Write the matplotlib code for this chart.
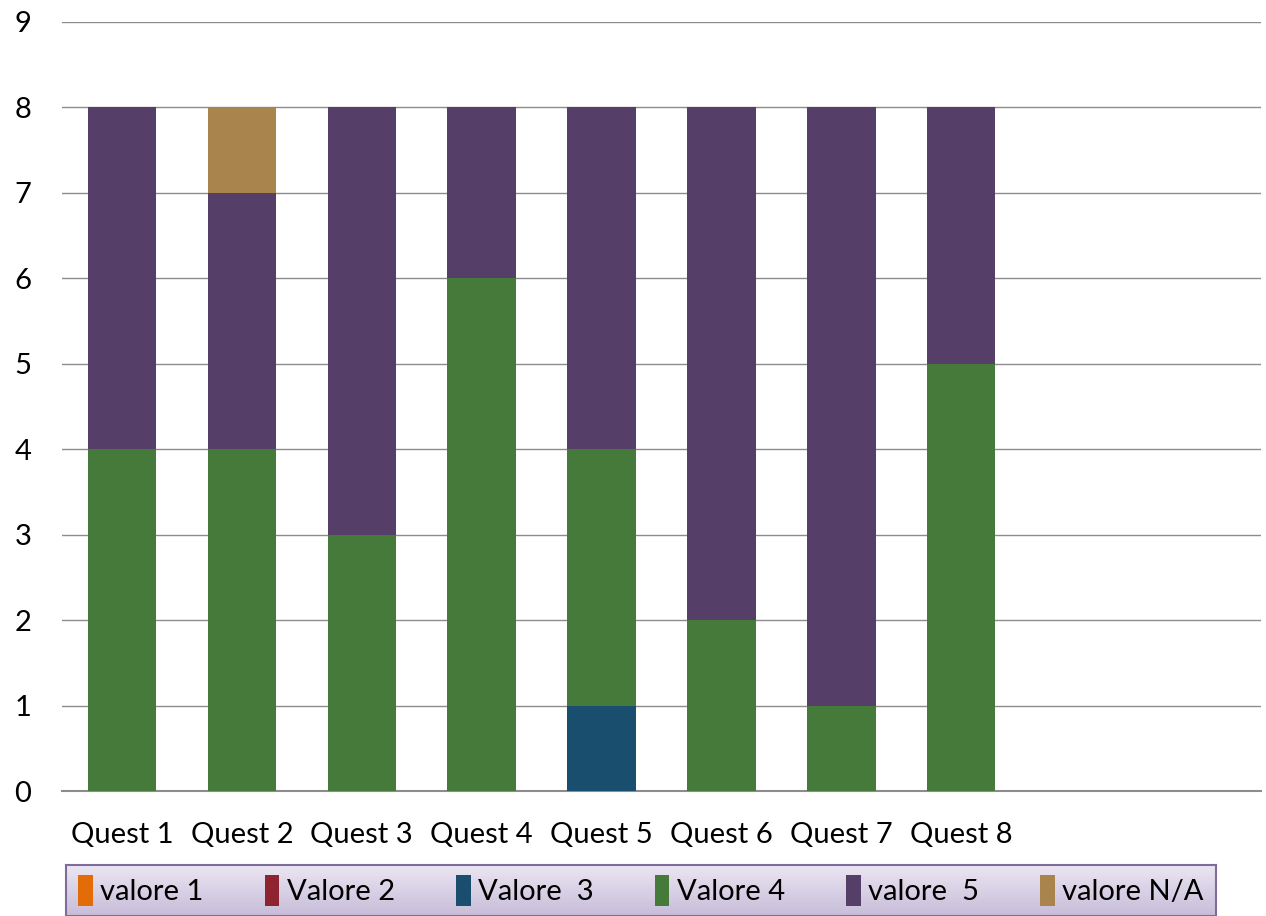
import matplotlib.pyplot as plt
import numpy as np
from matplotlib.patches import Patch

plt.rcParams["font.family"] = ["Lato", "DejaVu Sans"]

categories = ["Quest 1", "Quest 2", "Quest 3", "Quest 4", "Quest 5",
              "Quest 6", "Quest 7", "Quest 8", "", ""]
series_names = ["valore 1", "Valore 2", "Valore  3", "Valore 4", "valore  5", "valore N/A"]
valore1 = [0, 0, 0, 0, 0, 0, 0, 0, 0, 0]
valore2 = [0, 0, 0, 0, 0, 0, 0, 0, 0, 0]
valore3 = [0, 0, 0, 0, 1, 0, 0, 0, 0, 0]
valore4 = [4, 4, 3, 6, 3, 2, 1, 5, 0, 0]
valore5 = [4, 3, 5, 2, 4, 6, 7, 3, 0, 0]
valore_na = [0, 1, 0, 0, 0, 0, 0, 0, 0, 0]
colors = ["#e36c09", "#8e2430", "#1a4e6e", "#457a3a", "#553f69", "#a9854d"]

fig = plt.figure(figsize=(12.66, 9.16), dpi=100)
ax = fig.add_axes([62 / 1266, 1 - 791 / 916, (1261 - 62) / 1266, (791 - 22) / 916])

x = np.arange(len(categories))
bottom = np.zeros(len(categories))
for vals, color in zip([valore1, valore2, valore3, valore4, valore5, valore_na], colors):
    vals = np.array(vals, dtype=float)
    ax.bar(x, vals, width=0.57, bottom=bottom, color=color, zorder=3)
    bottom += vals

ax.set_xlim(-0.5, len(categories) - 0.5)
ax.set_ylim(0, 9)
ax.set_yticks(range(10))
ax.set_xticks(x)
ax.set_xticklabels(categories)
ax.tick_params(axis="both", length=0, labelsize=21, colors="black")
ax.tick_params(axis="x", pad=22)
ax.tick_params(axis="y", pad=22)
ax.yaxis.grid(True, color="#8c8c8c", linewidth=1.0, zorder=0)
for side in ["left", "right", "top"]:
    ax.spines[side].set_visible(False)
ax.spines["bottom"].set_color("#8c8c8c")
ax.spines["bottom"].set_linewidth(1.5)

# legend box with soft gradient
lax = fig.add_axes([66 / 1266, 0, (1216 - 66) / 1266, (916 - 865) / 916])
grad = np.linspace(0, 1, 100).reshape(-1, 1)
top_c = np.array([0.92, 0.90, 0.95])
bot_c = np.array([0.78, 0.74, 0.85])
img = top_c + (bot_c - top_c) * grad[:, :, None]
lax.imshow(img, aspect="auto", extent=[0, 1, 0, 1], origin="upper")
lax.set_xticks([])
lax.set_yticks([])
for side in lax.spines.values():
    side.set_color("#7e6c9a")
    side.set_linewidth(1.5)
handles = [Patch(facecolor=c, edgecolor="none") for c in colors]
lax.legend(handles, series_names, loc="center", ncol=6, frameon=False,
           fontsize=21, handlelength=0.5, handleheight=1.3, handletextpad=0.25,
           columnspacing=2.1, borderaxespad=0)

fig.savefig("out.png", dpi=100)
